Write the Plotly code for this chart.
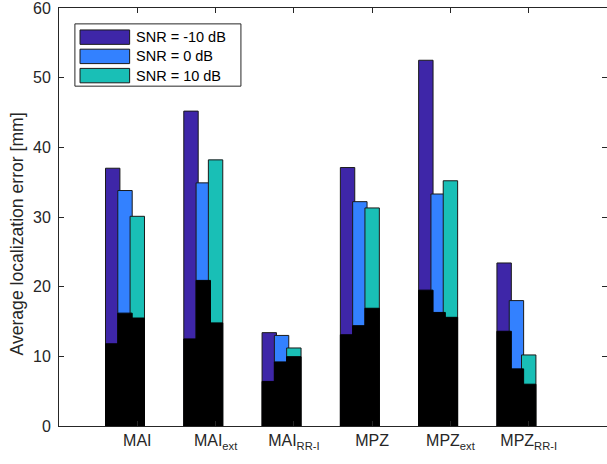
import plotly.graph_objects as go

categories = ["MAI", "MAI<sub>ext</sub>", "MAI<sub>RR-I</sub>", "MPZ", "MPZ<sub>ext</sub>", "MPZ<sub>RR-I</sub>"]
series_names = ["SNR = -10 dB", "SNR = 0 dB", "SNR = 10 dB"]
# total height of each bar (coloured part)
snr_m10_total = [37.0, 45.2, 13.4, 37.1, 52.5, 23.4]
snr_0_total = [33.8, 34.9, 13.0, 32.2, 33.3, 18.0]
snr_10_total = [30.1, 38.2, 11.2, 31.3, 35.2, 10.2]
# black (lower) part of each bar
snr_m10_black = [11.8, 12.5, 6.4, 13.1, 19.5, 13.6]
snr_0_black = [16.2, 20.9, 9.2, 14.4, 16.3, 8.2]
snr_10_black = [15.5, 14.8, 9.95, 16.9, 15.6, 6.0]
yticks = [0, 10, 20, 30, 40, 50, 60]

colors = ["#3E26A8", "#3381FF", "#19BFB6"]
totals = [snr_m10_total, snr_0_total, snr_10_total]
blacks = [snr_m10_black, snr_0_black, snr_10_black]

xpos = list(range(1, len(categories) + 1))
slot = 0.157
bw = 0.184
offsets = [(j - 2) * slot - bw / 2 for j in range(3)]

fig = go.Figure()
for j in range(3):
    fig.add_trace(go.Bar(x=xpos, y=totals[j], name=series_names[j], width=bw, offset=offsets[j],
                         marker=dict(color=colors[j], line=dict(color="#1a1a1a", width=1)),
                         showlegend=False))
for j in range(3):
    fig.add_trace(go.Bar(x=xpos, y=blacks[j], name=series_names[j] + " (black)", width=bw, offset=offsets[j],
                         marker=dict(color="black", line=dict(color="black", width=1)),
                         showlegend=False))

font = "Liberation Sans, Arial, sans-serif"
axcol = "#262626"

fig.update_layout(
    width=607, height=464,
    margin=dict(l=59, r=0, t=8, b=38),
    barmode="overlay",
    paper_bgcolor="white", plot_bgcolor="white",
    font=dict(family=font, size=16, color=axcol),
    xaxis=dict(range=[0, 7], tickmode="array", tickvals=xpos, ticktext=categories,
               ticks="inside", ticklen=5, tickcolor=axcol, showline=True, linecolor=axcol,
               linewidth=1, mirror="allticks", showgrid=False, zeroline=False,
               tickfont=dict(size=16, color=axcol)),
    yaxis=dict(range=[0, 60], tickmode="array", tickvals=yticks,
               ticks="inside", ticklen=5, tickcolor=axcol, showline=True, linecolor=axcol,
               linewidth=1, mirror="allticks", showgrid=False, zeroline=False,
               tickfont=dict(size=16, color=axcol), ticklabelstandoff=4,
               ticklabeloverflow="allow"),
)

# y-axis title
fig.add_annotation(text="Average localization error [mm]", xref="paper", yref="paper",
                   x=-0.077, y=0.46, textangle=-90, showarrow=False,
                   xanchor="center", yanchor="middle", font=dict(size=17.6, color=axcol))

# legend box (drawn manually to reproduce wide swatches)
lx0, lx1, ly0, ly1 = 0.029, 0.332, 0.813, 0.962
fig.add_shape(type="rect", xref="paper", yref="paper", x0=lx0, x1=lx1, y0=ly0, y1=ly1,
              line=dict(color=axcol, width=1), fillcolor="white", layer="above")
row_y = [0.913, 0.867, 0.821]
for j in range(3):
    yc = row_y[j]
    fig.add_shape(type="rect", xref="paper", yref="paper", x0=0.0384, x1=0.1289,
                  y0=yc, y1=yc + 0.0345, line=dict(color="#1a1a1a", width=1),
                  fillcolor=colors[j], layer="above")
    fig.add_annotation(text=series_names[j], xref="paper", yref="paper", x=0.137, y=yc + 0.0172,
                       xanchor="left", yanchor="middle", showarrow=False,
                       font=dict(size=14.5, color="black"))

fig.write_html("out.html", config={"displayModeBar": False},
               post_script="document.body.style.margin='0';")
